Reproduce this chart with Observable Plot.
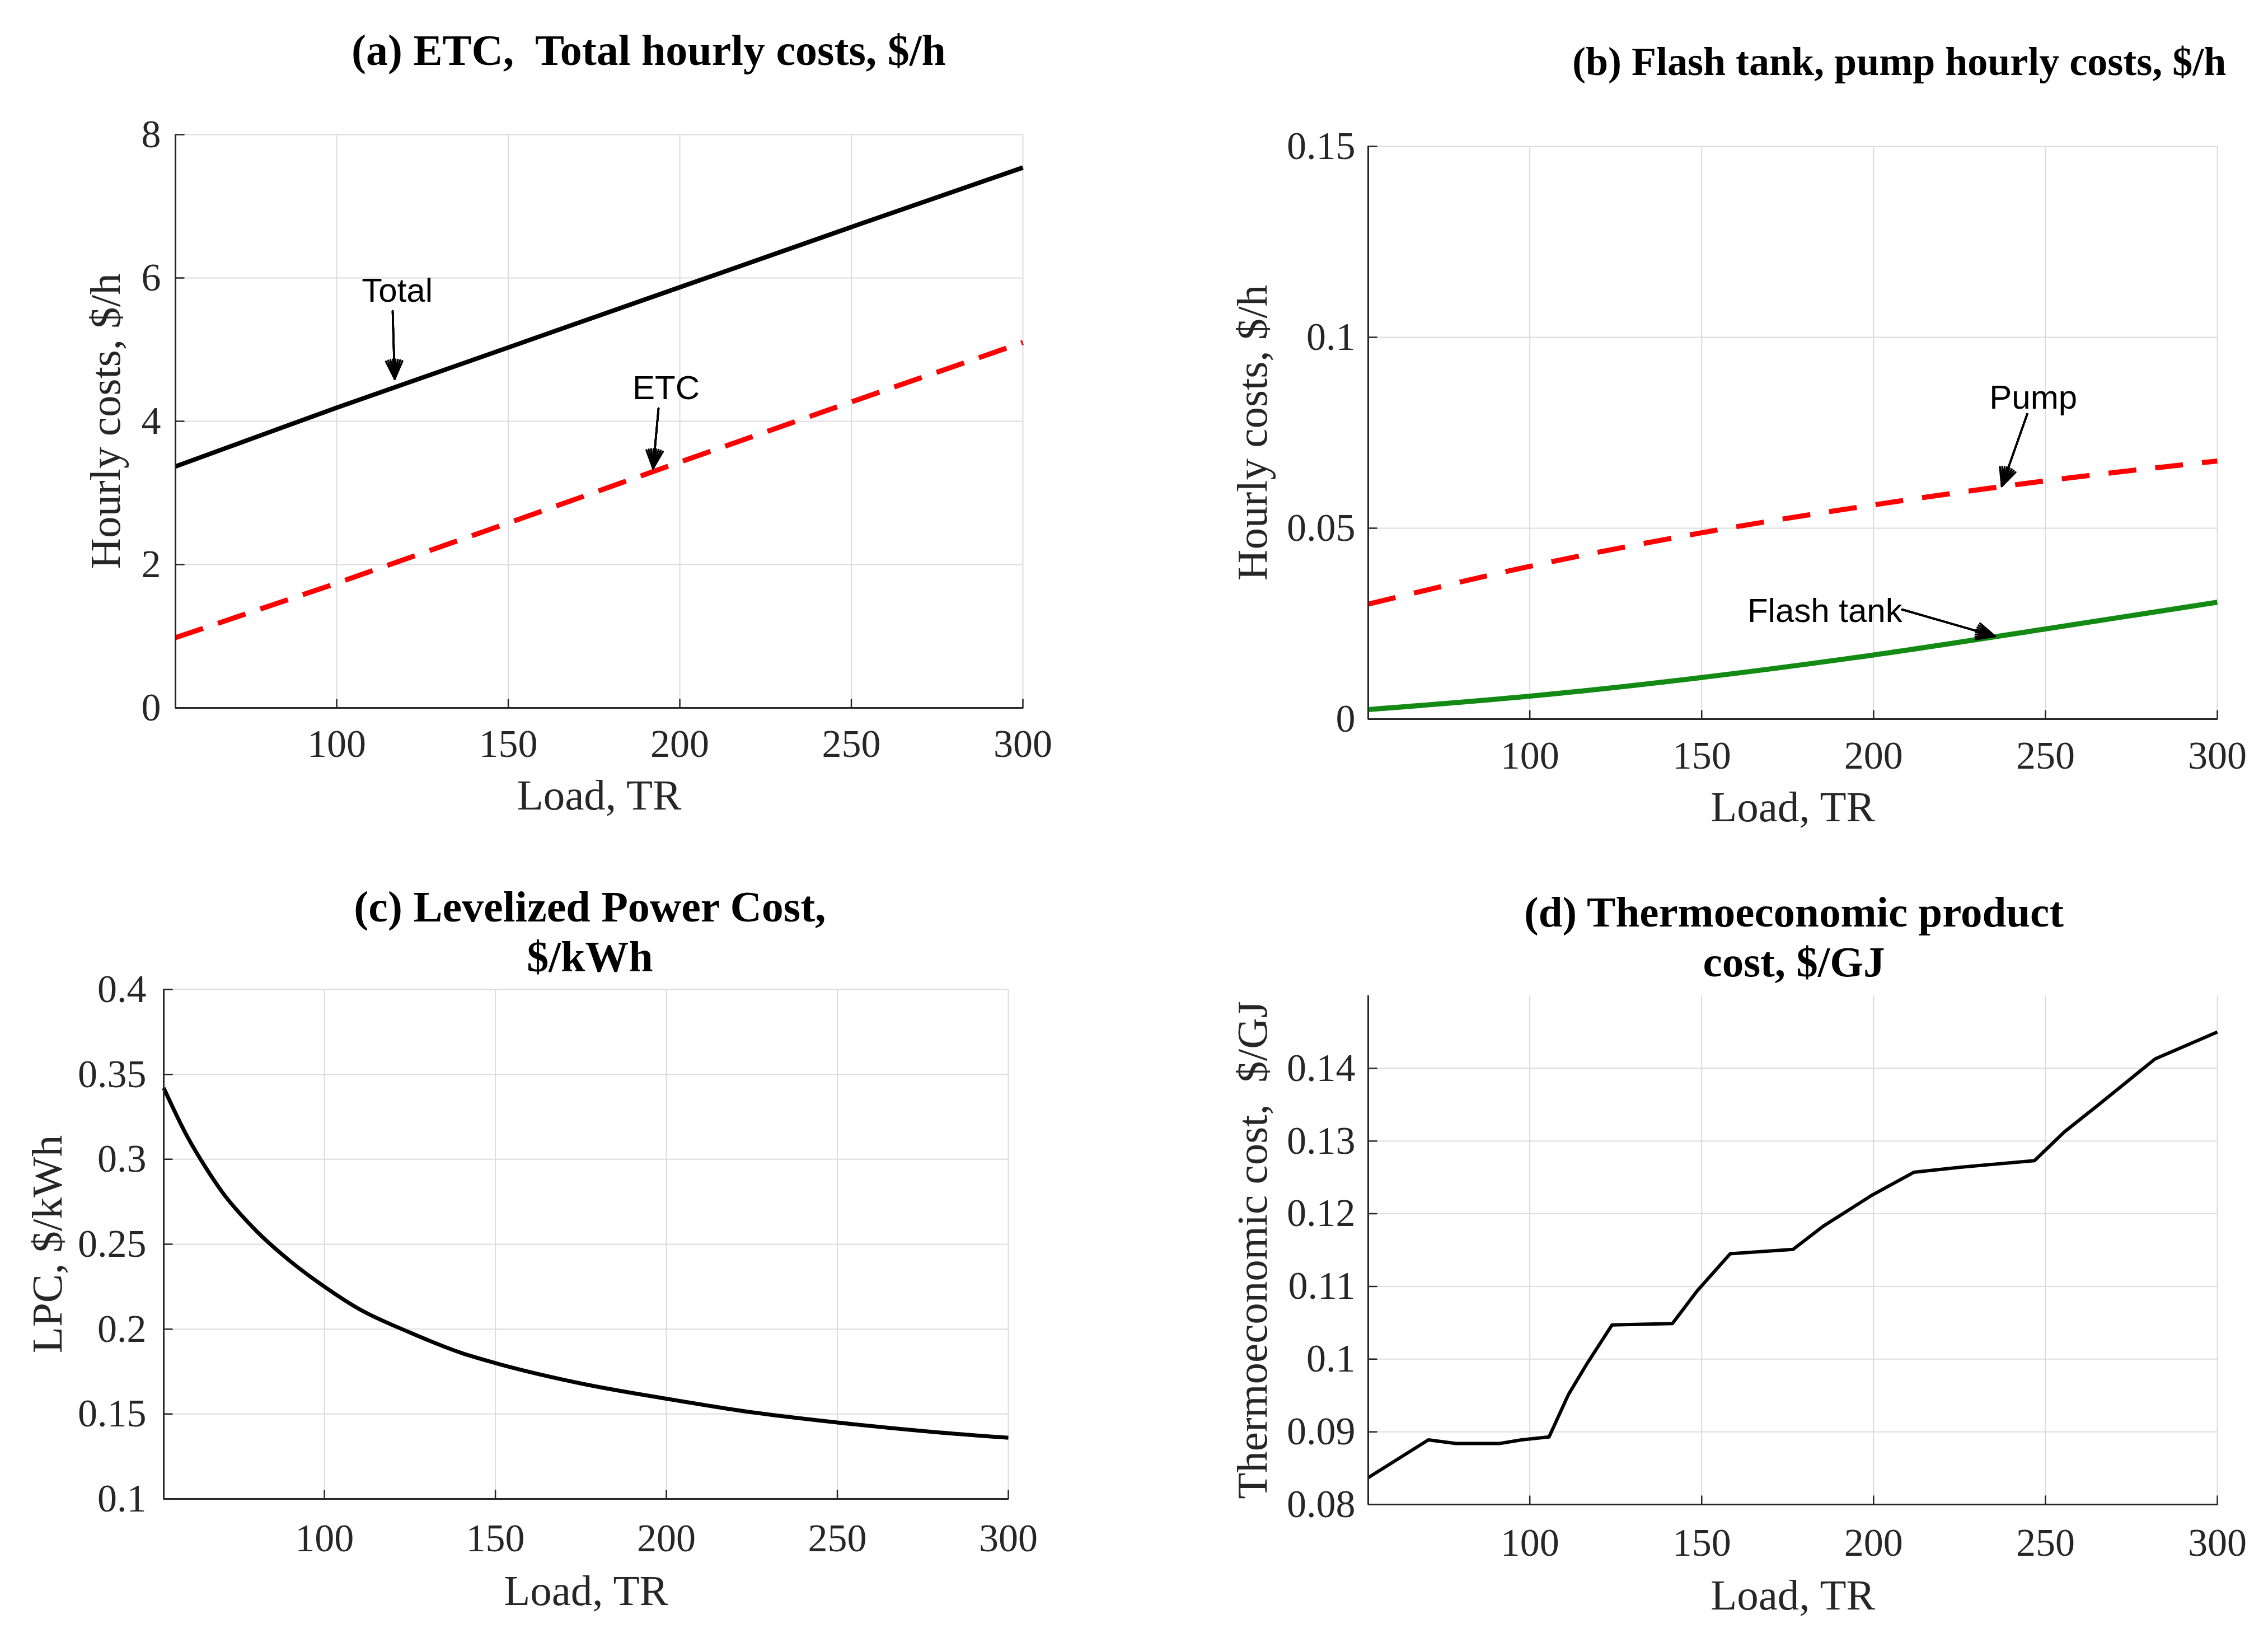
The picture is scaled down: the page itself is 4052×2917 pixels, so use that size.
<!DOCTYPE html>
<html>
<head>
<meta charset="utf-8">
<script src="https://cdn.jsdelivr.net/npm/d3@7"></script>
<script src="https://cdn.jsdelivr.net/npm/@observablehq/plot@0.6"></script>
<style>
  body { margin: 0; background: #fff; }
  #page { position: relative; width: 4052px; height: 2917px; background: #fff; overflow: hidden; }
  .panel { position: absolute; }
  .title { position: absolute; font-family: "Liberation Serif", "Times New Roman", serif; font-weight: bold; color: #000; white-space: pre; }
</style>
</head>
<body>
<div id="page"></div>
<script>
// ---- data ----
var loadAB = [53, 100, 150, 200, 250, 300];
var totalCost = [3.37, 4.19, 5.03, 5.87, 6.71, 7.54];
var etcCost = [0.98, 1.74, 2.58, 3.43, 4.27, 5.10];
var pumpCost = [0.0301, 0.0400, 0.0488, 0.0561, 0.0624, 0.0676];
var flashCost = [0.0025, 0.0060, 0.0109, 0.0168, 0.0236, 0.0306];

var loadC = [53, 60, 65, 70, 80, 90, 100, 110, 125, 140, 150, 175, 200, 225, 250, 275, 300];
var lpc = [0.342, 0.313, 0.296, 0.281, 0.258, 0.240, 0.225, 0.212, 0.198, 0.186, 0.180, 0.168, 0.159, 0.151, 0.145, 0.140, 0.136];

var loadD = [53, 70.5, 78.5, 91.2, 97.6, 105.6, 111.2, 116.8, 123.9, 141.5, 148.7, 158.3, 176.6, 185.4, 199.7, 211.7, 225.3, 246.8, 255.6, 265.2, 281.9, 300];
var thermoCost = [0.0837, 0.0889, 0.0884, 0.0884, 0.0889, 0.0893, 0.0951, 0.0995, 0.1047, 0.1049, 0.1094, 0.1145, 0.1151, 0.1183, 0.1226, 0.1257, 0.1264, 0.1273, 0.1313, 0.1349, 0.1413, 0.1450];

var ticksX = [100, 150, 200, 250, 300];
var ticksA = [0, 2, 4, 6, 8];
var ticksB = [0, 0.05, 0.1, 0.15];
var ticksC = [0.1, 0.15, 0.2, 0.25, 0.3, 0.35, 0.4];
var ticksD = [0.08, 0.09, 0.1, 0.11, 0.12, 0.13, 0.14];

// annotation arrows (tail -> head) and their labels
var notesA = [{text: "Total", x: 107.3, y: 5.82}, {text: "ETC", x: 186.2, y: 4.46}];
var arrowsA = [{x1: 116.3, y1: 5.54, x2: 116.9, y2: 4.59}, {x1: 193.8, y1: 4.18, x2: 192.2, y2: 3.34}];
var notesB = [{text: "Pump", x: 233.7, y: 0.0841}, {text: "Flash tank", x: 163.3, y: 0.0283}];
var arrowsB = [{x1: 244.7, y1: 0.0799, x2: 237.3, y2: 0.0610}, {x1: 208.3, y1: 0.0287, x2: 235.3, y2: 0.0217}];

function rows(xs, ys) {
  return xs.map(function(x, i) { return {x: x, y: ys[i]}; });
}

var axisInk = "#262626";
var serif = "Liberation Serif";
var tickUp = {draw: function(ctx, l) { ctx.moveTo(0, 0); ctx.lineTo(0, -l); }};

function drawPanel(cfg) {
  var xDomain = [53, 300];
  var marks = [
    Plot.gridX(ticksX, {stroke: "#dcdcdc", strokeOpacity: 1, strokeWidth: 2}),
    Plot.gridY(cfg.yTicks, {stroke: "#dcdcdc", strokeOpacity: 1, strokeWidth: 2})
  ];
  cfg.series.forEach(function(s) {
    marks.push(Plot.line(s.data, {
      x: "x", y: "y", stroke: s.color, strokeWidth: s.width,
      strokeDasharray: s.dash || null, strokeLinecap: "butt",
      curve: s.curve || "linear"
    }));
  });
  marks.push(
    Plot.ruleX([xDomain[0]], {stroke: axisInk, strokeWidth: 3}),
    Plot.ruleY([cfg.yDomain[0]], {stroke: axisInk, strokeWidth: 3}),
    Plot.vector(ticksX, {x: function(d) { return d; }, y: cfg.yDomain[0], length: 15, anchor: "start", rotate: 0, shape: tickUp, stroke: axisInk, strokeWidth: 2.5}),
    Plot.vector(cfg.yTicks, {x: xDomain[0], y: function(d) { return d; }, length: 15, anchor: "start", rotate: 90, shape: tickUp, stroke: axisInk, strokeWidth: 2.5}),
    Plot.axisX({ticks: ticksX, tickSize: 0, tickPadding: cfg.xPad, label: null, tickFormat: function(d) { return String(d); }}),
    Plot.axisY({ticks: cfg.yTicks, tickSize: 0, tickPadding: cfg.yPad, label: null, tickFormat: function(d) { return String(d); }}),
    Plot.text([cfg.xLabel], {frameAnchor: "bottom", dy: cfg.xLabelOff, textAnchor: "middle", lineAnchor: "middle", fontSize: 77, fontFamily: serif, fill: axisInk}),
    Plot.text([cfg.yLabel], {frameAnchor: "left", dx: -cfg.yLabelOff, rotate: -90, textAnchor: "middle", lineAnchor: "middle", fontSize: 77, fontFamily: serif, fill: axisInk})
  );
  if (cfg.arrows) {
    [50, 36, 22, 8].forEach(function(a) {
      marks.push(Plot.arrow(cfg.arrows, {x1: "x1", y1: "y1", x2: "x2", y2: "y2", stroke: "#000", strokeWidth: 3.5, headAngle: a, headLength: 15}));
    });
    marks.push(Plot.text(cfg.notes, {x: "x", y: "y", text: "text", textAnchor: "start", lineAnchor: "middle", fontSize: 60, fontFamily: "Liberation Sans", fill: "#000"}));
  }

  var plot = Plot.plot({
    width: cfg.width,
    height: cfg.height,
    marginLeft: cfg.m[0],
    marginRight: cfg.m[1],
    marginTop: cfg.m[2],
    marginBottom: cfg.m[3],
    x: {domain: xDomain},
    y: {domain: cfg.yDomain},
    style: {fontFamily: serif, fontSize: "70px", color: axisInk, background: "transparent", overflow: "visible"},
    marks: marks
  });

  var holder = document.createElement("div");
  holder.className = "panel";
  holder.style.left = cfg.left + "px";
  holder.style.top = cfg.top + "px";
  holder.appendChild(plot);
  document.getElementById("page").appendChild(holder);
}

function addTitle(text, left, top, size, width) {
  var t = document.createElement("div");
  t.className = "title";
  t.textContent = text;
  t.style.left = left + "px";
  t.style.top = top + "px";
  t.style.fontSize = size + "px";
  if (width) {
    t.style.width = width + "px";
    t.style.textAlign = "center";
    t.style.lineHeight = "89px";
  } else {
    t.style.lineHeight = "1";
  }
  document.getElementById("page").appendChild(t);
}

drawPanel({
  left: 0, top: 180, width: 1950, height: 1324, m: [313, 123, 60, 240],
  yDomain: [0, 8], yTicks: ticksA, xPad: 38, yPad: 26,
  xLabel: "Load, TR", yLabel: "Hourly costs, $/h", xLabelOff: 157, yLabelOff: 124,
  series: [
    {data: rows(loadAB, totalCost), color: "#000", width: 8},
    {data: rows(loadAB, etcCost), color: "#ff0000", width: 9, dash: "52,28"}
  ],
  arrows: arrowsA, notes: notesA
});

drawPanel({
  left: 2030, top: 200, width: 2022, height: 1324, m: [414, 91, 61, 240],
  yDomain: [0, 0.15], yTicks: ticksB, xPad: 39, yPad: 23,
  xLabel: "Load, TR", yLabel: "Hourly costs, $/h", xLabelOff: 158, yLabelOff: 206,
  series: [
    {data: rows(loadAB, pumpCost), color: "#ff0000", width: 9, dash: "50,34", curve: "monotone-x"},
    {data: rows(loadAB, flashCost), color: "#138a13", width: 9, curve: "monotone-x"}
  ],
  arrows: arrowsB, notes: notesB
});

drawPanel({
  left: 0, top: 1700, width: 1950, height: 1194, m: [292, 149, 67, 217],
  yDomain: [0.1, 0.4], yTicks: ticksC, xPad: 44, yPad: 31,
  xLabel: "Load, TR", yLabel: "LPC, $/kWh", xLabelOff: 165, yLabelOff: 207,
  series: [{data: rows(loadC, lpc), color: "#000", width: 7, curve: "monotone-x"}]
});

drawPanel({
  left: 2030, top: 1700, width: 2022, height: 1197, m: [414, 91, 78, 210],
  yDomain: [0.08, 0.15], yTicks: ticksD, xPad: 42, yPad: 23,
  xLabel: "Load, TR", yLabel: "Thermoeconomic cost,  $/GJ", xLabelOff: 163, yLabelOff: 206,
  series: [{data: rows(loadD, thermoCost), color: "#000", width: 6}]
});

addTitle("(a) ETC,  Total hourly costs, $/h", 628, 51, 78);
addTitle("(b) Flash tank, pump hourly costs, $/h", 2809, 74, 72);
addTitle("(c) Levelized Power Cost,\n$/kWh", 554, 1575, 78, 1000);
addTitle("(d) Thermoeconomic product\ncost, $/GJ", 2705, 1585, 77, 1000);
</script>
</body>
</html>
